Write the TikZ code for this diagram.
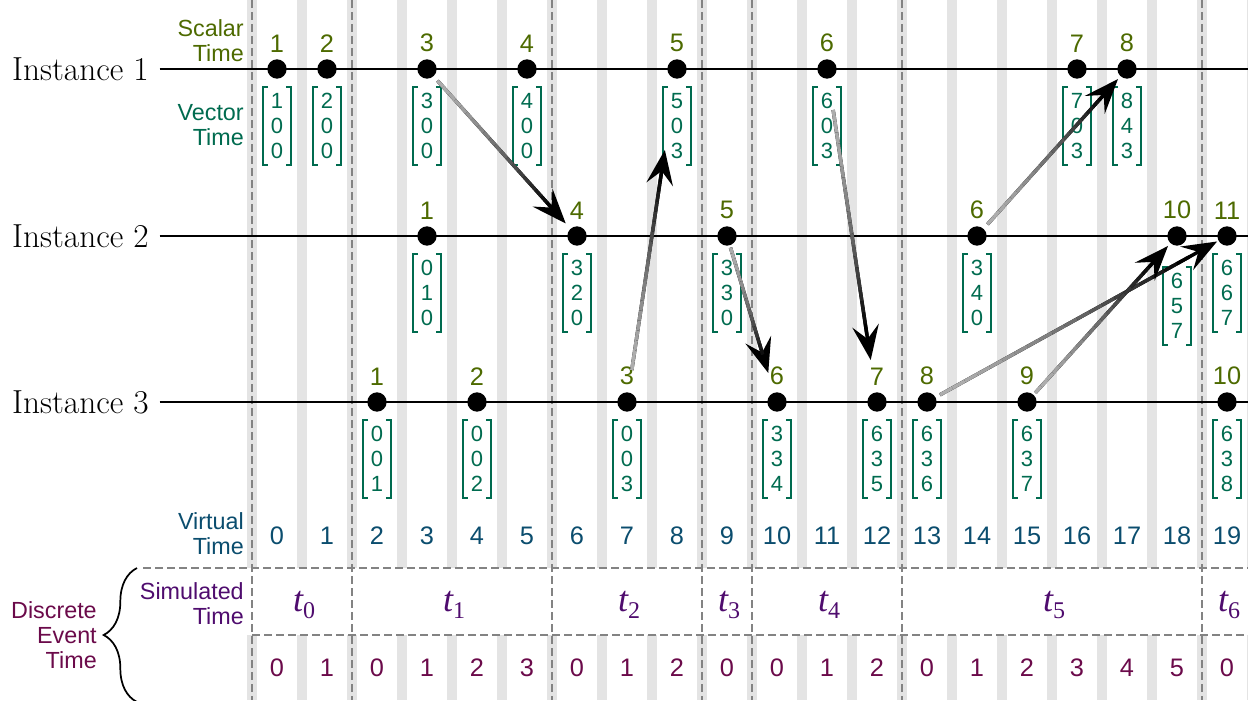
\documentclass[tikz,border=0pt]{standalone}
\usepackage{fontspec}
\newfontfamily\sansfam{Liberation Sans}
\newfontfamily\serifam{Liberation Serif}
\usepackage{tikz}
\usetikzlibrary{calc,positioning,arrows.meta,decorations.pathreplacing}

\definecolor{scalarcol}{HTML}{4D6A00}
\definecolor{vectorcol}{HTML}{006B4F}
\definecolor{virtualcol}{HTML}{0B4D6E}
\definecolor{simcol}{HTML}{4F0C6E}
\definecolor{discretecol}{HTML}{6B0A4A}
\definecolor{stripecol}{HTML}{E4E4E4}
\definecolor{dashcol}{HTML}{838383}

\newcommand{\lblfont}{\sansfam\fontsize{17.5}{18.75}\selectfont}
\newcommand{\scfont}{\sansfam\fontsize{19}{22}\selectfont}
\newcommand{\vcfont}{\sansfam\fontsize{16.5}{18.75}\selectfont}
% simulated time step: italic t with upright index
\newcommand{\simstep}[1]{{\serifam\itshape t}\raisebox{-5pt}{\serifam\fontsize{18}{18}\selectfont #1}}

% message from one event to another, light gray fading into black
\newcommand{\sendmsg}[4]{%
    \draw[msg] ($(#1)!#3!(#2)$) -- ($(#1)!#4!(#2)$);
    \foreach \k in {0,...,19}{
        \pgfmathsetmacro{\fa}{#3+(#4-#3)*0.9*\k/20}
        \pgfmathsetmacro{\fb}{#3+(#4-#3)*0.9*(\k+1)/20}
        \pgfmathtruncatemacro{\sh}{32+68*(\k/19)^1.5}
        \draw[line width=2.6pt, draw=black!\sh] ($(#1)!\fa!(#2)$) -- ($(#1)!\fb!(#2)$);
    }%
}

\begin{document}
\begin{tikzpicture}[x=0.75pt, y=-0.75pt,
    stripe/.style={fill=stripecol},
    segline/.style={draw=dashcol, line width=2.2pt, dash pattern=on 6pt off 3pt},
    timeline/.style={draw=black, line width=2.2pt},
    instlabel/.style={font=\fontsize{25}{28}\selectfont, anchor=east, inner sep=0pt},
    lbl/.style={font=\lblfont, align=right, anchor=east, inner sep=0pt},
    event/.style={circle, fill=black, inner sep=0pt, minimum size=14.5pt},
    scalar/.style={font=\scfont, text=scalarcol, inner sep=0pt},
    lbr/.style={draw=vectorcol, line width=1.5pt,
        to path={([xshift=4pt]\tikztostart) -- (\tikztostart) -- (\tikztotarget) -- ([xshift=4pt]\tikztotarget)}},
    rbr/.style={draw=vectorcol, line width=1.5pt,
        to path={([xshift=-4pt]\tikztostart) -- (\tikztostart) -- (\tikztotarget) -- ([xshift=-4pt]\tikztotarget)}},
    vecbox/.style={font=\vcfont, text=vectorcol, align=center, inner sep=0pt,
        minimum width=21pt, minimum height=58pt,
        append after command={(\tikzlastnode.north west) edge[lbr] (\tikzlastnode.south west)
            (\tikzlastnode.north east) edge[rbr] (\tikzlastnode.south east)}},
    virtual/.style={font=\scfont, text=virtualcol, inner sep=0pt},
    discrete/.style={font=\scfont, text=discretecol, inner sep=0pt},
    simulated/.style={font=\fontsize{27}{28}\selectfont, text=simcol, inner sep=0pt},
    msg/.style={draw=black, line width=2.6pt, -{Stealth[length=26pt, width=20pt, inset=10pt]}}
]
    \useasboundingbox (0,0) rectangle (1248,700);

    % Grid
    \foreach \c in {0,...,20}{
        \fill[stripe] ({247+50*\c},0) rectangle ({257+50*\c},568);
        \fill[stripe] ({247+50*\c},635) rectangle ({257+50*\c},700);
    }
    \foreach \x in {252,352,552,702,752,902,1202}
        \draw[segline] (\x,0) -- (\x,700);
    \draw[segline] (143,568) -- (1248,568);
    \draw[segline] (252,635) -- (1248,635);

    % Labels
    \node[lbl, text=scalarcol] (ScalarLbl) at (244,41) {Scalar\\Time};
    \node[lbl, text=vectorcol] (VectorLbl) at (244,125) {Vector\\Time};
    \node[lbl, text=virtualcol] (VirtualLbl) at (244,534) {Virtual\\Time};
    \node[lbl, text=simcol] (SimLbl) at (244,604) {Simulated\\Time};
    \node[lbl, text=discretecol] (DiscLbl) at (97,635) {Discrete\\Event\\Time};
    \draw[decorate, decoration={brace, amplitude=25pt}, line width=1.3pt]
        (137,702) -- (137,568);

    % Time rows
    \foreach \k in {0,...,19}
        \node[virtual] (VT\k) at ({277+50*\k},536) {\k};
    \foreach \k/\d in {0/0,1/1,2/0,3/1,4/2,5/3,6/0,7/1,8/2,9/0,10/0,11/1,12/2,13/0,14/1,15/2,16/3,17/4,18/5,19/0}
        \node[discrete] (DT\k) at ({277+50*\k},668) {\d};
    \foreach \i/\x in {0/304,1/454,2/629,3/729,4/829,5/1054,6/1229}
        \node[simulated] (ST\i) at (\x,605) {\simstep{\i}};

    % Instances
    \foreach \i/\y in {1/69,2/236,3/402}{
        \node[instlabel] (Inst\i) at (149,\y) {Instance \i};
        \coordinate (Inst\i End) at (1248,\y);
        \draw[timeline] ([xshift=8pt]Inst\i.east) -- (Inst\i End);
    }

    % Instance 1
    \node[event] (Inst1E1) at (277,69) {};
    \node[scalar, above=5pt of Inst1E1] (Sc1E1) {1};
    \node[vecbox, below=5.8pt of Inst1E1] (Vec1E1) {1\\0\\0};
    \node[event] (Inst1E2) at (327,69) {};
    \node[scalar, above=5pt of Inst1E2] (Sc1E2) {2};
    \node[vecbox, below=5.8pt of Inst1E2] (Vec1E2) {2\\0\\0};
    \node[event] (Inst1E3) at (427,69) {};
    \node[scalar, above=5pt of Inst1E3] (Sc1E3) {3};
    \node[vecbox, below=5.8pt of Inst1E3] (Vec1E3) {3\\0\\0};
    \node[event] (Inst1E4) at (527,69) {};
    \node[scalar, above=5pt of Inst1E4] (Sc1E4) {4};
    \node[vecbox, below=5.8pt of Inst1E4] (Vec1E4) {4\\0\\0};
    \node[event] (Inst1E5) at (677,69) {};
    \node[scalar, above=5pt of Inst1E5] (Sc1E5) {5};
    \node[vecbox, below=5.8pt of Inst1E5] (Vec1E5) {5\\0\\3};
    \node[event] (Inst1E6) at (827,69) {};
    \node[scalar, above=5pt of Inst1E6] (Sc1E6) {6};
    \node[vecbox, below=5.8pt of Inst1E6] (Vec1E6) {6\\0\\3};
    \node[event] (Inst1E7) at (1077,69) {};
    \node[scalar, above=5pt of Inst1E7] (Sc1E7) {7};
    \node[vecbox, below=5.8pt of Inst1E7] (Vec1E7) {7\\0\\3};
    \node[event] (Inst1E8) at (1127,69) {};
    \node[scalar, above=5pt of Inst1E8] (Sc1E8) {8};
    \node[vecbox, below=5.8pt of Inst1E8] (Vec1E8) {8\\4\\3};

    % Instance 2
    \node[event] (Inst2E1) at (427,236) {};
    \node[scalar, above=5pt of Inst2E1] (Sc2E1) {1};
    \node[vecbox, below=5.8pt of Inst2E1] (Vec2E1) {0\\1\\0};
    \node[event] (Inst2E4) at (577,236) {};
    \node[scalar, above=5pt of Inst2E4] (Sc2E4) {4};
    \node[vecbox, below=5.8pt of Inst2E4] (Vec2E4) {3\\2\\0};
    \node[event] (Inst2E5) at (727,236) {};
    \node[scalar, above=5pt of Inst2E5] (Sc2E5) {5};
    \node[vecbox, below=5.8pt of Inst2E5] (Vec2E5) {3\\3\\0};
    \node[event] (Inst2E6) at (977,236) {};
    \node[scalar, above=5pt of Inst2E6] (Sc2E6) {6};
    \node[vecbox, below=5.8pt of Inst2E6] (Vec2E6) {3\\4\\0};
    \node[event] (Inst2E10) at (1177,236) {};
    \node[scalar, above=5pt of Inst2E10] (Sc2E10) {10};
    \node[vecbox, below=16pt of Inst2E10] (Vec2E10) {6\\5\\7};
    \node[event] (Inst2E11) at (1227,236) {};
    \node[scalar, above=5pt of Inst2E11] (Sc2E11) {11};
    \node[vecbox, below=5.8pt of Inst2E11] (Vec2E11) {6\\6\\7};

    % Instance 3
    \node[event] (Inst3E1) at (377,402) {};
    \node[scalar, above=5pt of Inst3E1] (Sc3E1) {1};
    \node[vecbox, below=5.8pt of Inst3E1] (Vec3E1) {0\\0\\1};
    \node[event] (Inst3E2) at (477,402) {};
    \node[scalar, above=5pt of Inst3E2] (Sc3E2) {2};
    \node[vecbox, below=5.8pt of Inst3E2] (Vec3E2) {0\\0\\2};
    \node[event] (Inst3E3) at (627,402) {};
    \node[scalar, above=5pt of Inst3E3] (Sc3E3) {3};
    \node[vecbox, below=5.8pt of Inst3E3] (Vec3E3) {0\\0\\3};
    \node[event] (Inst3E6) at (777,402) {};
    \node[scalar, above=5pt of Inst3E6] (Sc3E6) {6};
    \node[vecbox, below=5.8pt of Inst3E6] (Vec3E6) {3\\3\\4};
    \node[event] (Inst3E7) at (877,402) {};
    \node[scalar, above=5pt of Inst3E7] (Sc3E7) {7};
    \node[vecbox, below=5.8pt of Inst3E7] (Vec3E7) {6\\3\\5};
    \node[event] (Inst3E8) at (927,402) {};
    \node[scalar, above=5pt of Inst3E8] (Sc3E8) {8};
    \node[vecbox, below=5.8pt of Inst3E8] (Vec3E8) {6\\3\\6};
    \node[event] (Inst3E9) at (1027,402) {};
    \node[scalar, above=5pt of Inst3E9] (Sc3E9) {9};
    \node[vecbox, below=5.8pt of Inst3E9] (Vec3E9) {6\\3\\7};
    \node[event] (Inst3E10) at (1227,402) {};
    \node[scalar, above=5pt of Inst3E10] (Sc3E10) {10};
    \node[vecbox, below=5.8pt of Inst3E10] (Vec3E10) {6\\3\\8};

    % Messages
    \sendmsg{Inst1E3}{Inst2E4}{0.07}{0.925}
    \sendmsg{Inst3E3}{Inst1E5}{0.096}{0.757}
    \sendmsg{Inst2E5}{Inst3E6}{0.07}{0.825}
    \sendmsg{Inst1E6}{Inst3E7}{0.123}{0.874}
    \sendmsg{Inst2E6}{Inst1E8}{0.07}{0.94}
    \sendmsg{Inst3E8}{Inst2E11}{0.043}{0.967}
    \sendmsg{Inst3E9}{Inst2E10}{0.055}{0.94}
\end{tikzpicture}
\end{document}
